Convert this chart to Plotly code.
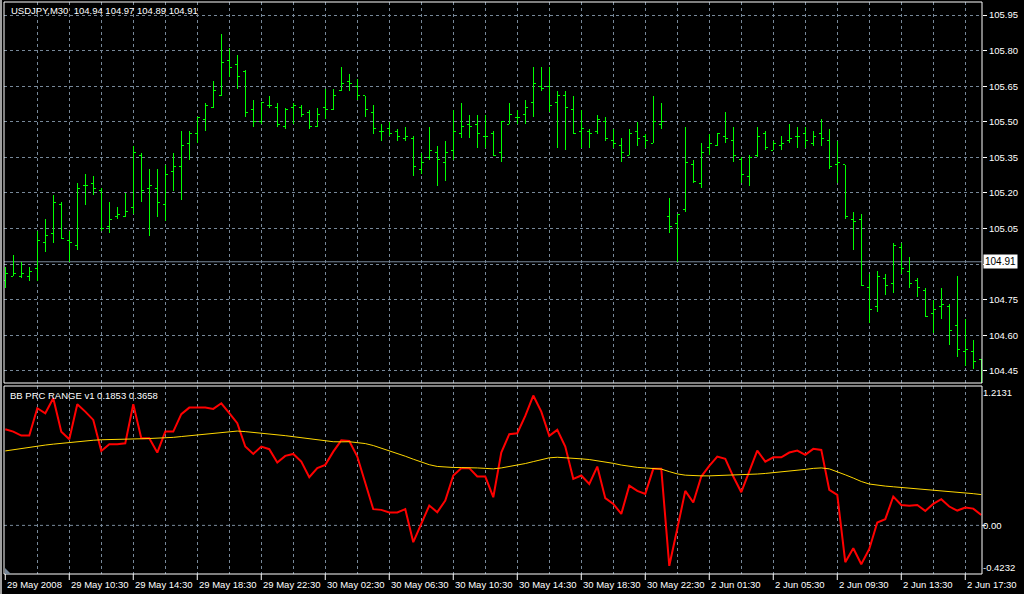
import plotly.graph_objects as go

# ---------------- data (USDJPY, M30) ----------------
bar_open = [104.83, 104.85, 104.85, 104.85, 104.88, 104.99, 105.03, 105.15, 105.00, 104.98,
            105.23, 105.24, 105.21, 105.06, 105.10, 105.10, 105.14, 105.36, 105.22, 105.22,
            105.15, 105.29, 105.31, 105.41, 105.45, 105.51, 105.56, 105.61, 105.76, 105.74,
            105.71, 105.55, 105.50, 105.57, 105.56, 105.48, 105.56, 105.56, 105.54, 105.48,
            105.56, 105.55, 105.63, 105.67, 105.65, 105.61, 105.54, 105.46, 105.47, 105.46,
            105.43, 105.43, 105.30, 105.35, 105.37, 105.33, 105.38, 105.45, 105.49, 105.49,
            105.44, 105.45, 105.37, 105.49, 105.52, 105.53, 105.58, 105.65, 105.65, 105.58,
            105.61, 105.55, 105.46, 105.46, 105.46, 105.50, 105.42, 105.40, 105.36, 105.46,
            105.44, 105.41, 105.49, 105.10, 105.07, 105.13, 105.32, 105.24, 105.39, 105.40,
            105.44, 105.42, 105.34, 105.27, 105.36, 105.45, 105.38, 105.40, 105.42, 105.44,
            105.45, 105.41, 105.45, 105.42, 105.32, 105.32, 105.09, 105.09, 104.80, 104.72,
            104.84, 104.82, 104.97, 104.87, 104.83, 104.79, 104.69, 104.72, 104.72, 104.64,
            104.53, 104.53, 104.50]
bar_high = [104.89, 104.94, 104.91, 104.89, 105.04, 105.09, 105.19, 105.16, 105.04, 105.24,
            105.28, 105.27, 105.22, 105.16, 105.14, 105.20, 105.40, 105.37, 105.30, 105.30,
            105.32, 105.37, 105.46, 105.46, 105.52, 105.58, 105.67, 105.87, 105.81, 105.78,
            105.72, 105.59, 105.58, 105.61, 105.58, 105.56, 105.58, 105.57, 105.55, 105.56,
            105.64, 105.64, 105.73, 105.70, 105.68, 105.61, 105.57, 105.49, 105.50, 105.47,
            105.48, 105.44, 105.37, 105.48, 105.40, 105.42, 105.55, 105.58, 105.53, 105.53,
            105.53, 105.46, 105.50, 105.58, 105.55, 105.59, 105.73, 105.73, 105.73, 105.63,
            105.63, 105.61, 105.55, 105.47, 105.53, 105.52, 105.47, 105.43, 105.47, 105.50,
            105.45, 105.61, 105.58, 105.18, 105.11, 105.48, 105.34, 105.41, 105.45, 105.45,
            105.54, 105.48, 105.35, 105.36, 105.48, 105.46, 105.42, 105.44, 105.49, 105.48,
            105.48, 105.46, 105.51, 105.47, 105.42, 105.32, 105.12, 105.11, 104.86, 104.87,
            104.86, 104.99, 104.99, 104.93, 104.84, 104.80, 104.75, 104.80, 104.73, 104.85,
            104.67, 104.58, 104.50]
bar_low = [104.80, 104.85, 104.84, 104.83, 104.83, 104.95, 104.99, 105.01, 104.91, 104.96,
           105.15, 105.19, 105.04, 105.03, 105.09, 105.10, 105.11, 105.16, 105.02, 105.10,
           105.08, 105.21, 105.17, 105.34, 105.41, 105.46, 105.56, 105.61, 105.69, 105.64,
           105.52, 105.48, 105.49, 105.56, 105.48, 105.47, 105.49, 105.52, 105.47, 105.48,
           105.51, 105.55, 105.63, 105.63, 105.59, 105.52, 105.45, 105.42, 105.44, 105.42,
           105.42, 105.27, 105.28, 105.34, 105.23, 105.25, 105.34, 105.43, 105.43, 105.39,
           105.39, 105.36, 105.33, 105.49, 105.49, 105.49, 105.52, 105.63, 105.54, 105.39,
           105.38, 105.45, 105.39, 105.39, 105.45, 105.42, 105.39, 105.33, 105.36, 105.40,
           105.39, 105.41, 105.47, 105.03, 104.91, 105.12, 105.24, 105.22, 105.36, 105.40,
           105.41, 105.33, 105.24, 105.23, 105.35, 105.38, 105.38, 105.38, 105.41, 105.39,
           105.39, 105.40, 105.40, 105.30, 105.24, 105.09, 104.96, 104.81, 104.65, 104.70,
           104.77, 104.78, 104.86, 104.80, 104.76, 104.68, 104.61, 104.67, 104.56, 104.51,
           104.47, 104.46, 104.38]
bar_close = [104.86, 104.86, 104.86, 104.87, 105.00, 105.02, 105.16, 105.01, 104.99, 105.22,
             105.23, 105.22, 105.05, 105.09, 105.11, 105.12, 105.37, 105.21, 105.23, 105.16,
             105.28, 105.31, 105.40, 105.45, 105.52, 105.57, 105.63, 105.75, 105.73, 105.69,
             105.54, 105.50, 105.58, 105.57, 105.49, 105.55, 105.57, 105.53, 105.48, 105.53,
             105.55, 105.61, 105.66, 105.66, 105.61, 105.55, 105.47, 105.46, 105.45, 105.44,
             105.44, 105.31, 105.33, 105.38, 105.34, 105.37, 105.46, 105.48, 105.48, 105.45,
             105.44, 105.36, 105.50, 105.53, 105.52, 105.56, 105.66, 105.64, 105.57, 105.61,
             105.56, 105.45, 105.47, 105.45, 105.51, 105.43, 105.41, 105.37, 105.45, 105.43,
             105.42, 105.50, 105.50, 105.06, 105.11, 105.33, 105.25, 105.37, 105.41, 105.45,
             105.43, 105.36, 105.28, 105.35, 105.44, 105.39, 105.41, 105.41, 105.43, 105.44,
             105.42, 105.44, 105.43, 105.31, 105.33, 105.10, 105.08, 104.81, 104.71, 104.85,
             104.81, 104.98, 104.88, 104.82, 104.80, 104.68, 104.71, 104.73, 104.62, 104.54,
             104.54, 104.49, 104.42]

# BB PRC RANGE indicator
prc_range = [0.837, 0.816, 0.782, 0.782, 1.020, 0.976, 1.107, 0.816, 0.750, 1.055,
             0.990, 0.918, 0.648, 0.707, 0.707, 0.715, 1.055, 0.759, 0.759, 0.634,
             0.816, 0.816, 0.968, 1.025, 1.025, 1.025, 1.014, 1.063, 0.976, 0.889,
             0.686, 0.622, 0.686, 0.663, 0.547, 0.605, 0.622, 0.555, 0.419, 0.498,
             0.527, 0.642, 0.740, 0.735, 0.599, 0.367, 0.141, 0.135, 0.112, 0.112,
             0.141, -0.146, 0.019, 0.173, 0.115, 0.216, 0.434, 0.498, 0.498, 0.425,
             0.425, 0.245, 0.634, 0.794, 0.802, 0.953, 1.130, 0.990, 0.779, 0.831,
             0.686, 0.405, 0.434, 0.361, 0.512, 0.237, 0.187, 0.100, 0.346, 0.300,
             0.274, 0.492, 0.492, -0.352, -0.030, 0.300, 0.199, 0.425, 0.518, 0.599,
             0.579, 0.425, 0.289, 0.468, 0.651, 0.555, 0.593, 0.593, 0.634, 0.651,
             0.614, 0.666, 0.657, 0.309, 0.265, -0.320, -0.199, -0.338, -0.205, 0.025,
             0.054, 0.251, 0.178, 0.170, 0.178, 0.126, 0.187, 0.228, 0.164, 0.129,
             0.155, 0.146, 0.091]
prc_signal = [0.648, 0.659, 0.670, 0.681, 0.690, 0.699, 0.707, 0.715, 0.722, 0.729,
              0.735, 0.741, 0.745, 0.748, 0.750, 0.752, 0.753, 0.754, 0.756, 0.758,
              0.760, 0.766, 0.773, 0.780, 0.787, 0.795, 0.804, 0.812, 0.819, 0.821,
              0.816, 0.810, 0.804, 0.797, 0.789, 0.781, 0.772, 0.763, 0.753, 0.743,
              0.733, 0.728, 0.727, 0.728, 0.720, 0.712, 0.695, 0.673, 0.650, 0.627,
              0.602, 0.576, 0.550, 0.528, 0.513, 0.506, 0.504, 0.503, 0.503, 0.500,
              0.496, 0.492, 0.500, 0.512, 0.523, 0.538, 0.555, 0.574, 0.588, 0.593,
              0.590, 0.585, 0.579, 0.573, 0.564, 0.553, 0.540, 0.525, 0.512, 0.505,
              0.500, 0.498, 0.490, 0.468, 0.448, 0.437, 0.431, 0.431, 0.431, 0.433,
              0.435, 0.437, 0.440, 0.443, 0.447, 0.452, 0.458, 0.465, 0.472, 0.480,
              0.487, 0.496, 0.500, 0.492, 0.468, 0.440, 0.412, 0.382, 0.360, 0.348,
              0.342, 0.336, 0.330, 0.324, 0.319, 0.314, 0.308, 0.303, 0.298, 0.293,
              0.285, 0.276, 0.268]

time_label_bars = [0, 8, 16, 24, 32, 40, 48, 56, 64, 72, 80, 88, 96, 104, 112, 120]
time_labels = ["29 May 2008", "29 May 10:30", "29 May 14:30", "29 May 18:30",
               "29 May 22:30", "30 May 02:30", "30 May 06:30", "30 May 10:30",
               "30 May 14:30", "30 May 18:30", "30 May 22:30", "2 Jun 01:30",
               "2 Jun 05:30", "2 Jun 09:30", "2 Jun 13:30", "2 Jun 17:30"]
price_ticks = [104.45, 104.60, 104.75, 104.90, 105.05, 105.20, 105.35, 105.50,
               105.65, 105.80, 105.95]
last_price = 104.91
title_text = "USDJPY,M30\u00a0\u00a0104.94 104.97 104.89 104.91"
ind_title = "BB PRC RANGE v1 0.1853 0.3658"
ind_min, ind_max = -0.4232, 1.2131

# ---------------- styling ----------------
GRID = "#778899"
FONT = "Liberation Sans, Arial, sans-serif"
FS = 9.5
BAR_GREEN = "#00FF00"

n = len(bar_close)
xs = list(range(n))
grid_bars = list(range(4, n, 4))

fig = go.Figure()
fig.add_trace(go.Ohlc(
    x=xs, open=bar_open, high=bar_high, low=bar_low, close=bar_close,
    increasing=dict(line=dict(color=BAR_GREEN, width=1)),
    decreasing=dict(line=dict(color=BAR_GREEN, width=1)),
    tickwidth=0.3, xaxis="x", yaxis="y", hoverinfo="skip", showlegend=False))
fig.add_trace(go.Scatter(
    x=xs, y=prc_range, mode="lines", line=dict(color="#FF0000", width=2),
    xaxis="x2", yaxis="y2", hoverinfo="skip", showlegend=False))
fig.add_trace(go.Scatter(
    x=xs, y=prc_signal, mode="lines", line=dict(color="#FFD700", width=1),
    xaxis="x2", yaxis="y2", hoverinfo="skip", showlegend=False))

W, H = 1024, 594
ML, MR, MT, MB = 4, 42, 2, 20
plot_h = H - MT - MB
main_bottom = (H - MB - 383) / plot_h
ind_top = (H - MB - 386) / plot_h

xrange = [-0.16, 122.09]
common_x = dict(range=xrange, tickmode="array", tickvals=grid_bars, showticklabels=False,
                ticks="", showgrid=True, gridcolor=GRID, griddash="3px,3px", gridwidth=1,
                zeroline=False, showline=False, fixedrange=True)

# the 104.90 level label is covered by the current-price box in the original
price_ticktext = ["" if abs(v - 104.90) < 1e-9 else f"{v:.2f}" for v in price_ticks]

fig.update_layout(
    width=W, height=H,
    margin=dict(l=ML, r=MR, t=MT, b=MB, autoexpand=False),
    paper_bgcolor="black", plot_bgcolor="black",
    font=dict(family=FONT, size=FS, color="white"),
    showlegend=False,
    xaxis=dict(anchor="y", domain=[0, 1], rangeslider=dict(visible=False), **common_x),
    xaxis2=dict(anchor="y2", domain=[0, 1], matches="x", **common_x),
    yaxis=dict(anchor="x", domain=[main_bottom, 1], side="right",
               range=[104.399, 106.005], tickmode="array", tickvals=price_ticks,
               ticktext=price_ticktext,
               ticks="outside", ticklen=4, tickcolor="white",
               tickfont=dict(family=FONT, size=FS, color="white"),
               showgrid=True, gridcolor=GRID, griddash="3px,3px", gridwidth=1,
               zeroline=False, showline=False, fixedrange=True, automargin=False),
    yaxis2=dict(anchor="x2", domain=[0, ind_top], side="right",
                range=[ind_min, ind_max], tickmode="array",
                tickvals=[1.153, 0.0, -0.37],
                ticktext=[f"{ind_max:.4f}", "0.00", f"{ind_min:.4f}"],
                ticks="", tickfont=dict(family=FONT, size=FS, color="white"),
                showgrid=False, zeroline=False, showline=False, fixedrange=True,
                automargin=False),
)

pw = W - ML - MR
shapes = []
shapes.append(dict(type="line", xref="paper", x0=0, x1=1, yref="y2", y0=0, y1=0,
                   line=dict(color=GRID, width=1, dash="3px,3px"), layer="below"))
shapes.append(dict(type="line", xref="paper", x0=0, x1=1, yref="y", y0=last_price, y1=last_price,
                   line=dict(color=GRID, width=1), layer="below"))
shapes.append(dict(type="rect", xref="paper", yref="paper", x0=0, x1=1, y0=main_bottom, y1=1,
                   line=dict(color="white", width=1)))
shapes.append(dict(type="rect", xref="paper", yref="paper", x0=0, x1=1, y0=0, y1=ind_top,
                   line=dict(color="white", width=1)))
for b in time_label_bars:
    shapes.append(dict(type="line", xref="x2", x0=b, x1=b, yref="paper", y0=0, y1=-6 / plot_h,
                       line=dict(color="white", width=1)))
shapes.append(dict(type="line", xref="paper", x0=1, x1=1 + 4 / pw, yref="y2", y0=0, y1=0,
                   line=dict(color="white", width=1)))
shapes.append(dict(type="rect", xref="paper", yref="paper", x0=-4 / pw, x1=-2 / pw,
                   y0=-20 / plot_h, y1=1 + 2 / plot_h, fillcolor="#A0A0A0", line=dict(width=0)))
shapes.append(dict(type="path", xref="paper", yref="paper",
                   path=f"M {1/pw},0 L {1/pw},{6/plot_h} L {7/pw},0 Z",
                   fillcolor=GRID, line=dict(width=0)))
fig.update_layout(shapes=shapes)

ann = []
ann.append(dict(text=title_text, xref="paper", yref="paper", x=4.7 / pw, y=1 - 8.7 / plot_h,
                xanchor="left", yanchor="middle", showarrow=False,
                font=dict(family=FONT, size=FS, color="white")))
ann.append(dict(text=ind_title, xref="paper", yref="paper", x=4 / pw, y=(H - MB - 395) / plot_h,
                xanchor="left", yanchor="middle", showarrow=False,
                font=dict(family=FONT, size=FS, color="white")))
for b, t in zip(time_label_bars, time_labels):
    ann.append(dict(text=t, xref="x2", yref="paper", x=b, y=0, xanchor="left", yanchor="middle",
                    xshift=0, yshift=-10, showarrow=False,
                    font=dict(family=FONT, size=FS, color="white")))
ann.append(dict(text=f"{last_price:.2f}", xref="paper", yref="y", x=1, y=last_price,
                xanchor="left", yanchor="middle", xshift=1, showarrow=False,
                bgcolor="white", borderpad=1,
                font=dict(family=FONT, size=FS + 0.5, color="black")))
fig.update_layout(annotations=ann)

post = ("document.body.style.margin='0';document.body.style.padding='0';"
        "document.body.style.overflow='hidden';"
        "document.querySelectorAll('.trace.ohlc path').forEach(function(p){"
        "p.style.shapeRendering='crispEdges';});")
fig.write_html("out.html", post_script=post, config={"displayModeBar": False})
